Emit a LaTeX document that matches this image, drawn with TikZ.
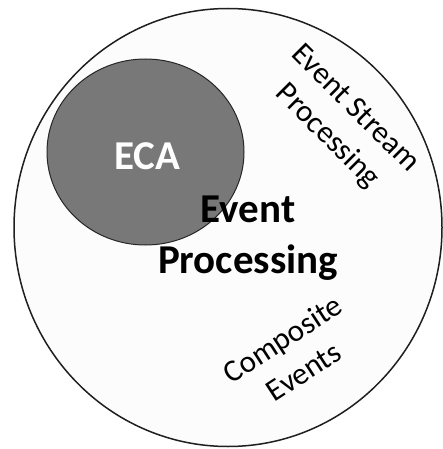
\documentclass[tikz,border=0pt]{standalone}
\usepackage{fontspec}
\setmainfont{Carlito}
\usetikzlibrary{shapes.geometric}
\begin{document}
\begin{tikzpicture}[x=1pt,y=-1pt,
  outer/.style={ellipse,draw=black!88,line width=1.5pt,fill=black!1,
    minimum width=428pt,minimum height=438pt,inner sep=0pt},
  inner/.style={ellipse,draw=black!85,line width=1pt,fill=black!53,
    minimum width=197pt,minimum height=186pt,inner sep=0pt},
  biglabel/.style={font=\bfseries\fontsize{41}{51}\selectfont,align=center,inner sep=0pt},
  sidelabel/.style={font=\fontsize{31}{39}\selectfont,align=center,inner sep=0pt}]
  \useasboundingbox (0,0) rectangle (443,449);
  % the event processing universe
  \node[outer] (ep) at (228,227.5) {};
  % ECA subset
  \node[inner] (eca) at (145.5,152) {};
  \node[biglabel,text=white] (ecatext) at (147.5,156) {ECA};
  % central label, drawn over the ECA disc
  \node[biglabel,text=black] (eptext) at (248,238) {Event\\Processing};
  % rotated labels of the other areas
  \node[sidelabel,rotate=-45] (esp) at (341,123) {Event Stream\\Processing};
  \node[sidelabel,rotate=33] (ce) at (293,355) {Composite\\Events};
\end{tikzpicture}
\end{document}
